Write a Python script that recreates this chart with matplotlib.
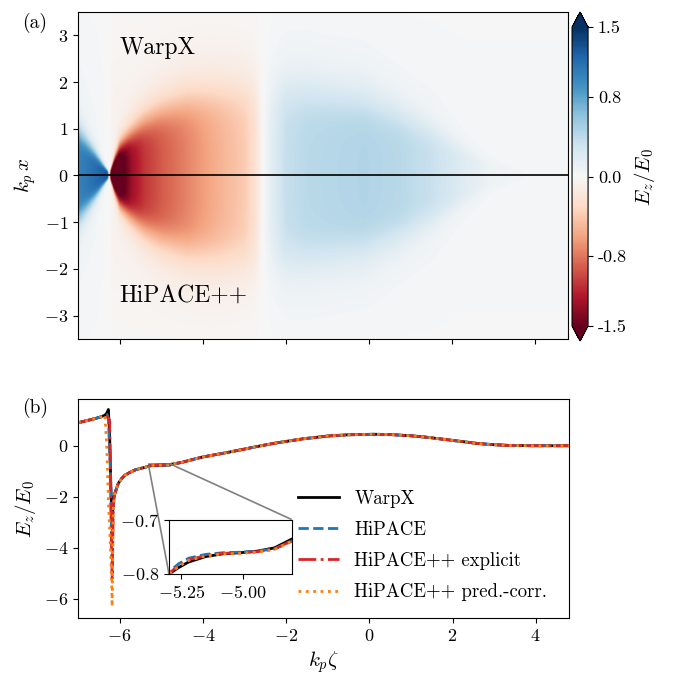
import numpy as np
import matplotlib
matplotlib.use('Agg')
import matplotlib.pyplot as plt
from mpl_toolkits.axes_grid1.inset_locator import mark_inset

plt.rcParams['font.family'] = 'serif'
plt.rcParams['font.serif'] = ['cmr10']
plt.rcParams['mathtext.fontset'] = 'cm'
plt.rcParams['axes.formatter.use_mathtext'] = True
plt.rcParams['font.size'] = 13
plt.rcParams['axes.labelsize'] = 15

# --- panel (a): field map, read on axis + bubble radius + faint halo ---
field_zeta = [-7.0, -6.8, -6.6, -6.4, -6.3, -6.25, -6.2, -6.1, -6.0, -5.7, -5.4, -5.0,
              -4.4, -4.0, -3.7, -3.0, -2.75, -2.55, -2.3, -2.0, -1.5, -0.9, -0.1, 0.7,
              1.5, 2.3, 2.9, 3.5, 4.0, 4.8]
field_axis = [0.95, 1.02, 1.10, 1.20, 1.30, 0.0, -2.5, -1.90, -1.60, -1.20, -1.00, -0.85,
              -0.68, -0.56, -0.48, -0.33, -0.20, 0.0, 0.15, 0.30, 0.36, 0.38, 0.40, 0.38,
              0.30, 0.16, 0.05, 0.01, 0.0, 0.0]
field_radius = [0.95, 0.72, 0.48, 0.22, 0.10, 0.05, 0.15, 0.40, 0.62, 0.92, 1.17, 1.40,
                1.64, 1.74, 1.80, 1.88, 1.90, 1.92, 1.94, 1.94, 1.90, 1.80, 1.68, 1.38,
                1.02, 0.60, 0.30, 0.15, 0.10, 0.10]
field_halo = [0.06, 0.05, 0.04, 0.02, 0.0, 0.0, -0.06, -0.07, -0.07, -0.07, -0.07, -0.07,
              -0.07, -0.07, -0.07, -0.06, -0.05, 0.0, 0.03, 0.05, 0.05, 0.05, 0.05, 0.04,
              0.04, 0.03, 0.03, 0.03, 0.03, 0.03]

cbar_ticks = [1.5, 0.8, 0.0, -0.8, -1.5]
cbar_labels = ['1.5', '0.8', '0.0', '-0.8', '-1.5']

# --- panel (b): on-axis lineouts ---
front_zeta = [-7.0, -6.8, -6.6, -6.45, -6.35]
front_ez = [0.90, 0.98, 1.06, 1.13, 1.20]

warpx_spike_zeta = [-6.30, -6.27, -6.24, -6.21, -6.18, -6.15]
warpx_spike_ez = [1.30, 1.42, 0.40, -1.60, -3.00, -2.13]
hipace_spike_zeta = [-6.30, -6.27, -6.22, -6.19, -6.15]
hipace_spike_ez = [1.22, 1.05, -1.00, -3.80, -2.20]
explicit_spike_zeta = [-6.30, -6.24, -6.22, -6.20, -6.18, -6.15]
explicit_spike_ez = [1.15, 1.00, -1.00, -3.50, -5.20, -2.30]
predcorr_spike_zeta = [-6.35, -6.31, -6.27, -6.22, -6.19, -6.18, -6.15]
predcorr_spike_ez = [1.10, 0.00, -2.10, -4.00, -5.20, -6.30, -2.40]

tail_pre_zeta = [-6.12, -6.08, -6.03, -5.95, -5.87, -5.75, -5.63, -5.5, -5.4]
tail_pre_ez = [-1.90, -1.70, -1.47, -1.28, -1.15, -1.04, -0.95, -0.89, -0.85]

inset_zeta = [-5.30, -5.26, -5.22, -5.15, -5.08, -5.01, -4.94, -4.87, -4.80]
warpx_inset = [-0.800, -0.788, -0.778, -0.768, -0.763, -0.761, -0.758, -0.752, -0.736]
hipace_inset = [-0.796, -0.781, -0.771, -0.764, -0.761, -0.760, -0.758, -0.754, -0.740]
explicit_inset = [-0.799, -0.784, -0.774, -0.766, -0.762, -0.761, -0.759, -0.754, -0.739]
predcorr_inset = [-0.800, -0.786, -0.775, -0.767, -0.763, -0.762, -0.760, -0.755, -0.740]

tail_post_zeta = [-4.7, -4.5, -4.2, -4.0, -3.7, -3.4, -3.0, -2.6, -2.2, -1.6, -1.0, -0.5,
                  0.1, 0.5, 1.0, 1.4, 1.8, 2.2, 2.6, 3.0, 3.4, 4.0, 4.8]
tail_post_ez = [-0.71, -0.65, -0.52, -0.44, -0.35, -0.26, -0.13, 0.0, 0.12, 0.27, 0.38, 0.43,
                0.45, 0.44, 0.39, 0.33, 0.25, 0.17, 0.09, 0.04, 0.01, 0.0, 0.0]

series_names = ['WarpX', 'HiPACE', 'HiPACE++ explicit', 'HiPACE++ pred.-corr.']


def build_series(spike_zeta, spike_ez, inset_ez):
    z = np.concatenate([front_zeta, spike_zeta, tail_pre_zeta, inset_zeta, tail_post_zeta])
    e = np.concatenate([front_ez, spike_ez, tail_pre_ez, inset_ez, tail_post_ez])
    return z, e


series = [
    build_series(warpx_spike_zeta, warpx_spike_ez, warpx_inset),
    build_series(hipace_spike_zeta, hipace_spike_ez, hipace_inset),
    build_series(explicit_spike_zeta, explicit_spike_ez, explicit_inset),
    build_series(predcorr_spike_zeta, predcorr_spike_ez, predcorr_inset),
]
styles = [
    dict(color='black', ls='-', lw=2.0),
    dict(color='tab:blue', ls='--', lw=2.0),
    dict(color='tab:red', ls='-.', lw=2.0),
    dict(color='tab:orange', ls=':', lw=2.0),
]

fig = plt.figure(figsize=(6.73, 6.88), dpi=100)

# panel (a)
ax1 = fig.add_axes([0.1159, 0.5073, 0.728, 0.4753])
zz = np.linspace(-7.0, 4.8, 600)
xx = np.linspace(-3.5, 3.5, 351)
Zg, Xg = np.meshgrid(zz, xx)
axis_g = np.interp(zz, field_zeta, field_axis)[None, :]
rad_g = np.interp(zz, field_zeta, field_radius)[None, :]
halo_g = np.interp(zz, field_zeta, field_halo)[None, :]
core = 1.0 / (1.0 + (np.abs(Xg) / rad_g) ** 6)
Ez = axis_g * core + halo_g * np.exp(-(Xg / 3.0) ** 2)

im = ax1.imshow(Ez, extent=[-7.0, 4.8, -3.5, 3.5], origin='lower', aspect='auto',
                cmap='RdBu', vmin=-1.5, vmax=1.5, interpolation='bilinear')
ax1.axhline(0, color='black', lw=1.2)
ax1.set_xlim(-7.0, 4.8)
ax1.set_ylim(-3.5, 3.5)
ax1.set_xticks([-6, -4, -2, 0, 2, 4])
ax1.set_xticklabels([])
ax1.set_yticks([-3, -2, -1, 0, 1, 2, 3])
ax1.set_ylabel(r'$k_p\,x$')
ax1.text(-6.0, 2.72, 'WarpX', va='center', ha='left', fontsize=17)
ax1.text(-6.0, -2.57, 'HiPACE++', va='center', ha='left', fontsize=17)

cax = fig.add_axes([0.850, 0.5044, 0.0238, 0.478])
cb = fig.colorbar(im, cax=cax, extend='both')
cb.set_ticks(cbar_ticks)
cb.set_ticklabels(cbar_labels)
cb.set_label(r'$E_z/E_0$')

fig.text(0.033, 0.966, '(a)', fontsize=14, va='center')

# panel (b)
ax2 = fig.add_axes([0.1159, 0.1017, 0.7296, 0.3183])
for (z, e), name, st in zip(series, series_names, styles):
    ax2.plot(z, e, label=name, **st)
ax2.set_xlim(-7.0, 4.8)
ax2.set_ylim(-6.75, 1.83)
ax2.set_xticks([-6, -4, -2, 0, 2, 4])
ax2.set_yticks([-6, -4, -2, 0])
ax2.set_xlabel(r'$k_p\zeta$')
ax2.set_ylabel(r'$E_z/E_0$')
ax2.legend(loc='lower right', bbox_to_anchor=(0.99, 0.0), frameon=False,
           handlelength=2.2, handletextpad=0.8, labelspacing=0.7, fontsize=13.5)
fig.text(0.033, 0.407, '(b)', fontsize=14, va='center')

axins = fig.add_axes([0.2511, 0.1657, 0.1823, 0.0792])
for (z, e), st in zip(series, styles):
    axins.plot(z, e, **st)
axins.set_xlim(-5.3, -4.8)
axins.set_ylim(-0.8, -0.7)
axins.set_xticks([-5.25, -5.0])
axins.set_yticks([-0.8, -0.7])
mark_inset(ax2, axins, loc1=3, loc2=1, fc='none', ec='0.5', lw=1.2)

fig.savefig('out.png', dpi=100)
